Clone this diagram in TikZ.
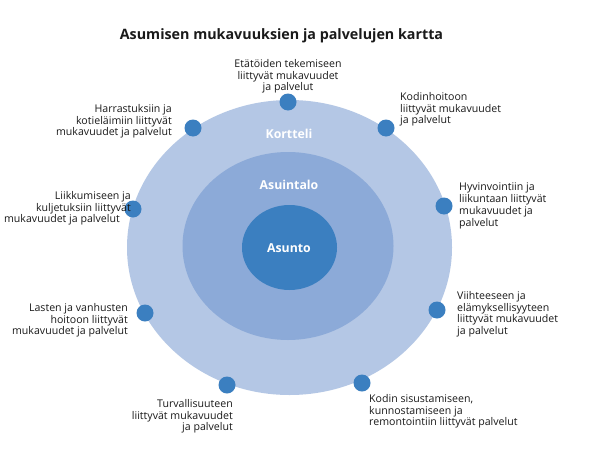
\documentclass[tikz,border=0pt]{standalone}
\usepackage{fontspec}
\setmainfont{Open Sans}
\usetikzlibrary{shapes.geometric}
\definecolor{ringA}{HTML}{B4C7E5}
\definecolor{ringB}{HTML}{8CAAD8}
\definecolor{ringC}{HTML}{3B7FC0}
\definecolor{dotc}{HTML}{3B7FC0}
\definecolor{txt}{HTML}{1A1A1A}
\tikzset{
  ring/.style={ellipse, draw=none, inner sep=0pt},
  dotnode/.style={circle, fill=dotc, minimum size=17pt, inner sep=0pt},
  lbl/.style={inner sep=0pt, text=txt, font=\fontsize{10.6}{11.8}\selectfont},
  ringlbl/.style={inner sep=0pt, text=white, font=\bfseries\fontsize{12.3}{15}\selectfont, anchor=base},
}
\begin{document}
\begin{tikzpicture}[x=1pt,y=-1pt]
\useasboundingbox (0,0) rectangle (609,460);
\fill[white] (0,0) rectangle (609,460);
\node[anchor=base, inner sep=0pt, text=txt, font=\bfseries\fontsize{14.3}{17}\selectfont] (title) at (281.5,40) {Asumisen mukavuuksien ja palvelujen kartta};
\node[ring, fill=ringA, minimum width=325pt, minimum height=295pt] (outer) at (289.5,247.5) {};
\node[ring, fill=ringB, minimum width=211pt, minimum height=188pt] (middle) at (288,246) {};
\node[ring, fill=ringC, minimum width=95pt, minimum height=85pt] (inner) at (289.5,247.5) {};
\node[ringlbl] (kortteli) at (289,138) {Kortteli};
\node[ringlbl] (asuintalo) at (289,189) {Asuintalo};
\node[ringlbl] (asunto) at (289,252) {Asunto};
% dots
\node[dotnode] (d1) at (288,102) {};
\node[dotnode] (d2) at (386,128) {};
\node[dotnode] (d3) at (444,206) {};
\node[dotnode] (d4) at (437,310) {};
\node[dotnode] (d5) at (362,383) {};
\node[dotnode] (d6) at (227,385) {};
\node[dotnode] (d7) at (145,313) {};
\node[dotnode] (d8) at (133,209) {};
\node[dotnode] (d9) at (193,128) {};
% labels
\node[lbl, anchor=north, align=center] (t1) at (288,59) {Etätöiden tekemiseen\\liittyvät mukavuudet\\ja palvelut};
\node[lbl, anchor=north west, align=left] (t2) at (400,92) {Kodinhoitoon\\liittyvät mukavuudet\\ja palvelut};
\node[lbl, anchor=north west, align=left] (t3) at (459,183) {Hyvinvointiin ja\\liikuntaan liittyvät\\mukavuudet ja\\palvelut};
\node[lbl, anchor=north west, align=left] (t4) at (457,291) {Viihteeseen ja\\elämyksellisyyteen\\liittyvät mukavuudet\\ja palvelut};
\node[lbl, anchor=north west, align=left] (t5) at (369,394) {Kodin sisustamiseen,\\kunnostamiseen ja\\remontointiin liittyvät palvelut};
\node[lbl, anchor=north east, align=right] (t6) at (233,399) {Turvallisuuteen\\liittyvät mukavuudet\\ja palvelut};
\node[lbl, anchor=north east, align=right] (t7) at (128,303) {Lasten ja vanhusten\\hoitoon liittyvät\\mukavuudet ja palvelut};
\node[lbl, anchor=north east, align=right] (t8) at (131,191) {Liikkumiseen ja\\kuljetuksiin liittyvät\\mukavuudet ja palvelut\hspace*{11pt}};
\node[lbl, anchor=north east, align=right] (t9) at (172,104) {Harrastuksiin ja\\kotieläimiin liittyvät\\mukavuudet ja palvelut};
\end{tikzpicture}
\end{document}
